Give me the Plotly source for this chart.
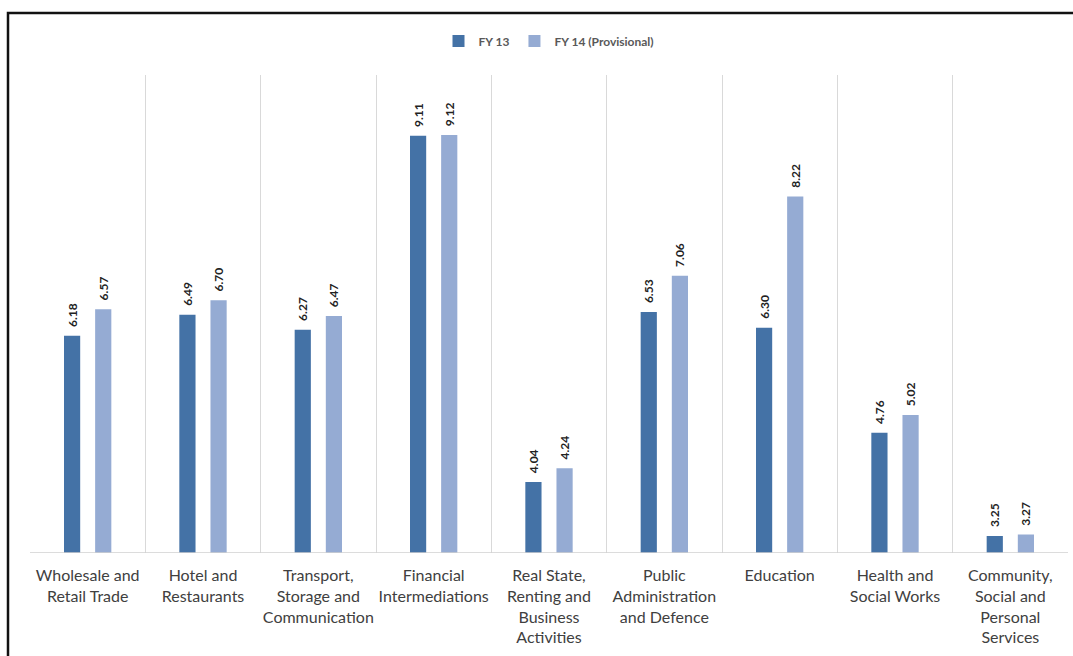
import plotly.graph_objects as go

# Sector categories (x axis) and growth values for the two fiscal years
categories = [
    "Wholesale and<br>Retail Trade",
    "Hotel and<br>Restaurants",
    "Transport,<br>Storage and<br>Communication",
    "Financial<br>Intermediations",
    "Real State,<br>Renting and<br>Business<br>Activities",
    "Public<br>Administration<br>and Defence",
    "Education",
    "Health and<br>Social Works",
    "Community,<br>Social and<br>Personal<br>Services",
]
fy13 = [6.18, 6.49, 6.27, 9.11, 4.04, 6.53, 6.30, 4.76, 3.25]
fy14 = [6.57, 6.70, 6.47, 9.12, 4.24, 7.06, 8.22, 5.02, 3.27]
series_names = ["FY 13", "FY 14 (Provisional)"]
series_colors = ["#4472a6", "#95abd3"]
y_floor, y_ceiling = 3, 10

W, H = 1073, 656
ML, MR, MT, MB = 30, 5, 75, 103

fig = go.Figure()
for name, vals, color in zip(series_names, [fy13, fy14], series_colors):
    fig.add_trace(go.Bar(
        x=categories,
        y=vals,
        name=name,
        marker=dict(color=color, line=dict(width=0)),
        # leading non-breaking spaces lift the rotated label off the bar top
        texttemplate="\u00a0\u00a0%{y:.2f}",
        textposition="outside",
        textangle=-90,
        constraintext="none",
        textfont=dict(family="Lato", size=12, color="#222222", weight="bold"),
        cliponaxis=False,
    ))

# Category baseline across the plot area
fig.add_shape(
    type="line", xref="paper", yref="y",
    x0=0, x1=1, y0=y_floor, y1=y_floor,
    line=dict(color="#d0d0d0", width=1.5),
    layer="above",
)

# Outer frame around the chart (left and top edges visible)
pw = W - ML - MR
ph = H - MT - MB
fig.add_shape(
    type="rect", xref="paper", yref="paper",
    x0=(8 - ML) / pw, x1=(W + 10 - ML) / pw,
    y0=(H - MB - (H + 10)) / ph, y1=(H - MB - 13) / ph,
    line=dict(color="#111111", width=2.5),
    fillcolor="rgba(0,0,0,0)",
    layer="above",
)

fig.update_layout(
    width=W, height=H,
    margin=dict(l=ML, r=MR, t=MT, b=MB),
    paper_bgcolor="white",
    plot_bgcolor="white",
    barmode="group",
    bargap=0.46,
    bargroupgap=0.48,
    showlegend=True,
    legend=dict(
        orientation="h",
        x=0.5, xanchor="center",
        y=(H - MB - 41) / ph, yanchor="middle",
        font=dict(family="Lato", size=12, color="#595959", weight="bold"),
        itemwidth=30,
        traceorder="normal",
    ),
    xaxis=dict(
        type="category",
        range=[-0.5, len(categories) - 0.5],
        tickson="boundaries",
        showgrid=True,
        gridcolor="#d9d9d9",
        gridwidth=1,
        showline=False,
        ticks="",
        tickfont=dict(family="Lato", size=16, color="#404040"),
        tickangle=0,
        ticklabelstandoff=11,
        automargin=False,
    ),
    yaxis=dict(
        range=[y_floor, y_ceiling],
        visible=False,
        showgrid=False,
        zeroline=False,
    ),
)

fig.write_html("out.html")
